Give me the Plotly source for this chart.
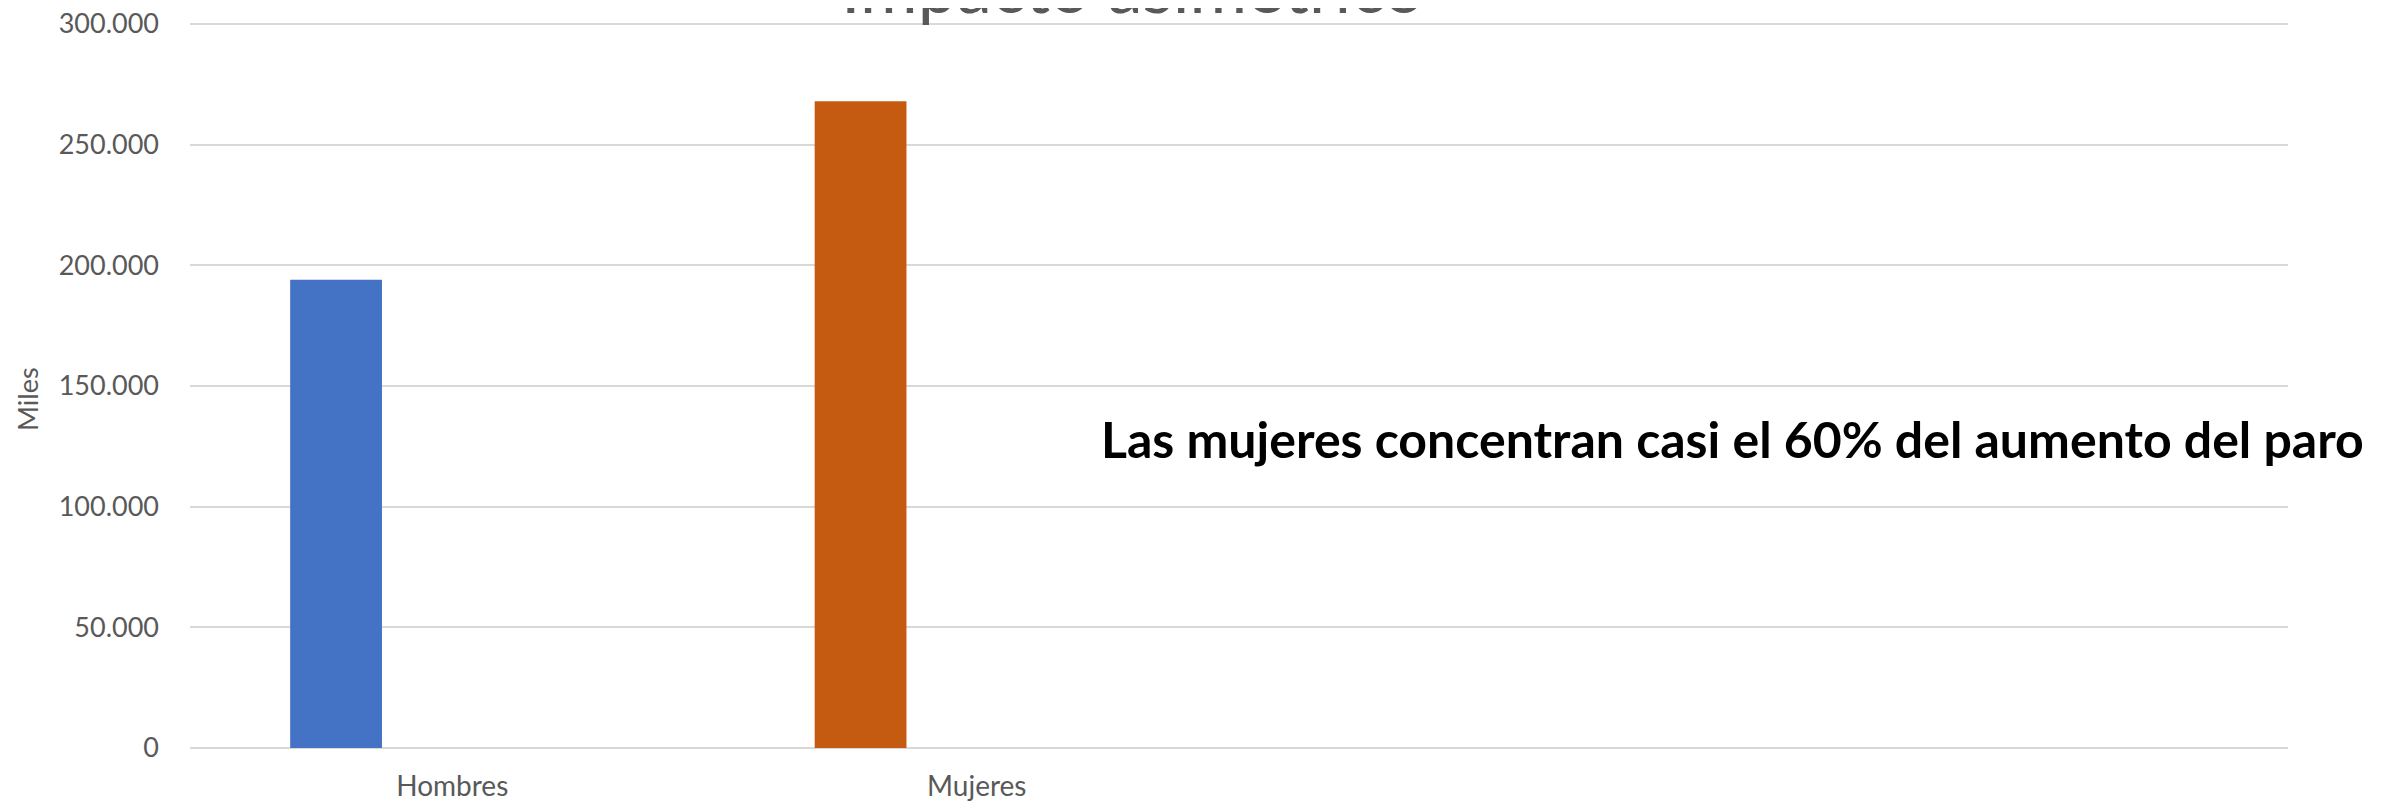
import plotly.graph_objects as go

categories = ["Hombres", "Mujeres"]
values = [194000, 268000]
bar_colors = ["#4472C4", "#C55A11"]
n_slots = 4  # category slots on the axis (two are empty)
y_ticks = [0, 50000, 100000, 150000, 200000, 250000, 300000]

title_text = "Impacto asimétrico"
note_text = "Las mujeres concentran casi el 60% del aumento del paro"
y_title = "Miles"

W, H = 2395, 801
L, R = 182, 115
TOP_GRID, BOT = 16, 740          # pixel rows of the 300.000 and 0 gridlines
EXTRA = 2                        # px above top gridline so it is drawn
T = TOP_GRID - EXTRA
B = H - BOT
plot_w = W - L - R
plot_h = BOT - T
y_max = y_ticks[-1] * (BOT - T) / (BOT - TOP_GRID)


def px_x(px):
    return (px - L) / plot_w


def px_y(py):
    return (BOT - py) / plot_h


fig = go.Figure()
fig.add_trace(go.Bar(
    x=list(range(len(categories))),
    y=values,
    marker=dict(color=bar_colors, line=dict(width=0)),
    width=0.175,
    offset=-0.309,
    hoverinfo="skip",
))

gray = "#595959"
fig.update_layout(
    width=W, height=H,
    margin=dict(l=L, r=R, t=T, b=B),
    paper_bgcolor="white", plot_bgcolor="white",
    showlegend=False,
    separators=",.",
    font=dict(family="Lato", color=gray, size=27),
    xaxis=dict(
        range=[-0.5, n_slots - 0.5],
        tickvals=list(range(len(categories))),
        ticktext=categories,
        showgrid=False, zeroline=False, showline=False,
        ticks="", tickfont=dict(size=28, color=gray),
        ticklabelstandoff=19,
        ticklabeloverflow="allow",
        automargin=False,
        fixedrange=True,
    ),
    yaxis=dict(
        range=[0, y_max],
        tickvals=y_ticks,
        tickformat=",d",
        showgrid=True, gridcolor="#d9d9d9", gridwidth=2,
        zeroline=True, zerolinecolor="#d9d9d9", zerolinewidth=2,
        showline=False, ticks="",
        tickfont=dict(size=27, color=gray),
        ticklabelstandoff=30,
        ticklabeloverflow="allow",
        automargin=False,
        fixedrange=True,
    ),
    annotations=[
        dict(text=title_text, xref="paper", yref="paper",
             x=px_x(1124), y=px_y(22),
             xanchor="center", yanchor="bottom", showarrow=False,
             font=dict(family="Lato", size=70, color=gray)),
        dict(text=note_text, xref="paper", yref="paper",
             x=px_x(1724), y=px_y(431),
             xanchor="center", yanchor="middle", showarrow=False,
             font=dict(family="Lato", size=50, color="black", weight="bold")),
        dict(text=y_title, xref="paper", yref="paper",
             x=px_x(19), y=px_y(391),
             xanchor="center", yanchor="middle", showarrow=False,
             textangle=-90,
             font=dict(family="Lato", size=27, color=gray)),
    ],
)

fig.write_html("out.html")
